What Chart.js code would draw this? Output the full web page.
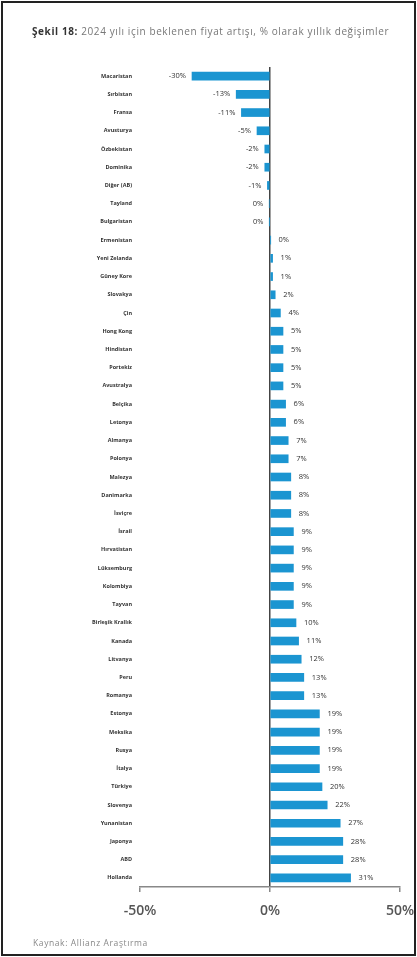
<!DOCTYPE html>
<html>
<head>
<meta charset="utf-8">
<script src="https://cdn.jsdelivr.net/npm/chart.js@4"></script>
<style>
  body { margin: 0; background: #fff; }
  #wrap { position: relative; width: 417px; height: 957px; overflow: hidden; }
  #frame { position: absolute; left: 1px; top: 1px; width: 411px; height: 951px; border: 2px solid #222; }
  #title { position: absolute; left: 32px; top: 24px; font: 10px "Open Sans", sans-serif; letter-spacing: 0.6px; color: #777; white-space: nowrap; }
  #title b { color: #333; }
  #source { position: absolute; left: 33px; top: 937px; font: 8.5px "Open Sans", sans-serif; letter-spacing: 0.6px; color: #888; }
  canvas { position: absolute; left: 0; top: 0; }
</style>
</head>
<body>
<div id="wrap">
  <canvas id="chart" width="417" height="957"></canvas>
  <div id="frame"></div>
  <div id="title"><b>Şekil 18:</b> 2024 yılı için beklenen fiyat artışı, % olarak yıllık değişimler</div>
  <div id="source">Kaynak: Allianz Araştırma</div>
</div>
<script>
const countries = [
  'Macaristan', 'Sırbistan', 'Fransa', 'Avusturya', 'Özbekistan', 'Dominika', 'Diğer (AB)', 'Tayland', 'Bulgaristan',
  'Ermenistan', 'Yeni Zelanda', 'Güney Kore', 'Slovakya', 'Çin', 'Hong Kong', 'Hindistan', 'Portekiz', 'Avustralya',
  'Belçika', 'Letonya', 'Almanya', 'Polonya', 'Malezya', 'Danimarka', 'İsviçre', 'İsrail', 'Hırvatistan',
  'Lüksemburg', 'Kolombiya', 'Tayvan', 'Birleşik Krallık', 'Kanada', 'Litvanya', 'Peru', 'Romanya', 'Estonya',
  'Meksika', 'Rusya', 'İtalya', 'Türkiye', 'Slovenya', 'Yunanistan', 'Japonya', 'ABD', 'Hollanda'
];
const changes = [
  -30, -13, -11, -5, -2, -2, -1, -0.3, -0.2,
  0.2, 1, 1, 2, 4, 5, 5, 5, 5,
  6, 6, 7, 7, 8, 8, 8, 9, 9,
  9, 9, 9, 10, 11, 12, 13, 13, 19,
  19, 19, 19, 20, 22, 27, 28, 28, 31
];
const xTicks = [-50, 0, 50];

// percent label next to the end of each bar
const valueLabels = {
  id: 'valueLabels',
  afterDatasetsDraw(chart) {
    const ctx = chart.ctx;
    const meta = chart.getDatasetMeta(0);
    ctx.save();
    ctx.font = '7.5px "Open Sans", sans-serif';
    ctx.fillStyle = '#333';
    ctx.textBaseline = 'middle';
    meta.data.forEach((bar, i) => {
      const v = changes[i];
      const txt = Math.round(v) + '%';
      if (v < 0) {
        ctx.textAlign = 'right';
        ctx.fillText(txt, bar.x - 6, bar.y);
      } else {
        ctx.textAlign = 'left';
        ctx.fillText(txt, bar.x + 8, bar.y);
      }
    });
    ctx.restore();
  }
};

new Chart(document.getElementById('chart'), {
  type: 'bar',
  data: {
    labels: countries,
    datasets: [{
      data: changes,
      backgroundColor: '#1b95d1',
      barThickness: 8
    }]
  },
  options: {
    responsive: false,
    animation: false,
    indexAxis: 'y',
    layout: { padding: { top: 67, bottom: 30, right: 0, left: 0 } },
    plugins: { legend: { display: false }, tooltip: { enabled: false } },
    scales: {
      x: {
        min: -50,
        max: 50,
        afterBuildTicks: axis => { axis.ticks = xTicks.map(v => ({ value: v })); },
        afterFit: axis => { axis.height = 40; axis.paddingRight = 17; },
        ticks: {
          callback: v => v + '%',
          color: '#555',
          font: { family: 'Open Sans', size: 14, weight: '600' },
          padding: 11
        },
        grid: {
          color: ctx => ctx.tick && ctx.tick.value === 0 ? '#444' : 'rgba(0,0,0,0)',
          lineWidth: 1.5,
          tickColor: '#888',
          tickLength: 5
        },
        border: { display: true, color: '#888', width: 1.5 }
      },
      y: {
        afterFit: axis => { axis.width = 140; },
        ticks: {
          color: '#333',
          font: { family: 'Open Sans', size: 5.5, weight: 'bold' },
          padding: 0,
          autoSkip: false
        },
        grid: { display: false },
        border: { display: false }
      }
    }
  },
  plugins: [valueLabels]
});
</script>
</body>
</html>
